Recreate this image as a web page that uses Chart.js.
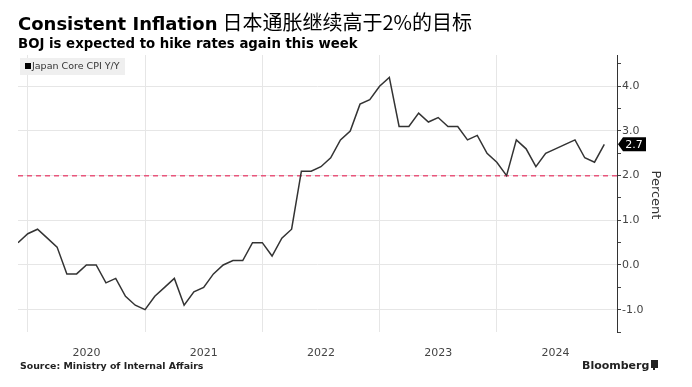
<!DOCTYPE html>
<html>
<head>
<meta charset="utf-8">
<script src="https://cdn.jsdelivr.net/npm/chart.js@4/dist/chart.umd.min.js"></script>
<style>
html, body { margin: 0; padding: 0; background: #fff; }
canvas { display: block; }
</style>
</head>
<body>
<canvas id="cpi" width="692" height="387"></canvas>
<script>
// Japan core CPI y/y, monthly, Nov 2019 .. Nov 2024
const cpiValues = [
  0.5, 0.7,                                                      // 2019 Nov-Dec
  0.8, 0.6, 0.4, -0.2, -0.2, 0.0, 0.0, -0.4, -0.3, -0.7, -0.9, -1.0, // 2020
  -0.7, -0.5, -0.3, -0.9, -0.6, -0.5, -0.2, 0.0, 0.1, 0.1, 0.5, 0.5, // 2021
  0.2, 0.6, 0.8, 2.1, 2.1, 2.2, 2.4, 2.8, 3.0, 3.6, 3.7, 4.0,        // 2022
  4.2, 3.1, 3.1, 3.4, 3.2, 3.3, 3.1, 3.1, 2.8, 2.9, 2.5, 2.3,        // 2023
  2.0, 2.8, 2.6, 2.2, 2.5, 2.6, 2.7, 2.8, 2.4, 2.3, 2.7              // 2024
];
const yearLabels = ["2020", "2021", "2022", "2023", "2024"];
const yearGridIdx = [1, 13, 25, 37, 49];   // month index of year boundaries
const yearLabelIdx = [7, 19, 31, 43, 55];  // mid-year positions for labels
const targetRate = 2.0;
const xMax = 61.3;

const cpiPoints = cpiValues.map((v, i) => ({x: i, y: v}));
const targetPoints = [{x: 0, y: targetRate}, {x: xMax, y: targetRate}];

const FONT = '"DejaVu Sans", Verdana, sans-serif';

const decorPlugin = {
  id: 'decor',
  afterDraw(chart) {
    const ctx = chart.ctx;
    const y = chart.scales.y;
    ctx.save();

    // titles
    ctx.textBaseline = 'alphabetic';
    ctx.fillStyle = '#000';
    ctx.font = 'bold 18px ' + FONT;
    ctx.fillText('Consistent Inflation', 18, 30);
    const w = ctx.measureText('Consistent Inflation').width;
    ctx.font = '20px "Noto Sans CJK SC", sans-serif';
    ctx.fillText('日本通胀继续高于2%的目标', 18 + w + 5, 30);
    ctx.font = 'bold 13.3px ' + FONT;
    ctx.fillText('BOJ is expected to hike rates again this week', 18, 48);

    // legend
    ctx.fillStyle = '#efefef';
    ctx.fillRect(20, 58, 105, 17);
    ctx.fillStyle = '#000';
    ctx.fillRect(25, 63, 6, 6);
    ctx.fillStyle = '#333';
    ctx.font = '9.5px ' + FONT;
    ctx.textBaseline = 'middle';
    ctx.fillText('Japan Core CPI Y/Y', 32, 66.5);

    // last value tag
    const last = cpiValues[cpiValues.length - 1];
    const py = y.getPixelForValue(last);
    ctx.fillStyle = '#000';
    ctx.beginPath();
    ctx.moveTo(618, py);
    ctx.lineTo(623, py - 7);
    ctx.lineTo(646, py - 7);
    ctx.lineTo(646, py + 7);
    ctx.lineTo(623, py + 7);
    ctx.closePath();
    ctx.fill();
    ctx.fillStyle = '#fff';
    ctx.font = '11px ' + FONT;
    ctx.textAlign = 'center';
    ctx.fillText(last.toFixed(1), 634, py + 0.5);

    // axis title
    ctx.save();
    ctx.translate(655, 195);
    ctx.rotate(Math.PI / 2);
    ctx.fillStyle = '#333';
    ctx.font = '13px ' + FONT;
    ctx.fillText('Percent', 0, 0);
    ctx.restore();

    // footer
    ctx.textAlign = 'left';
    ctx.fillStyle = '#222';
    ctx.font = 'bold 9.4px ' + FONT;
    ctx.fillText('Source: Ministry of Internal Affairs', 20, 367);
    ctx.font = 'bold 11px ' + FONT;
    ctx.fillText('Bloomberg', 582, 366);
    ctx.fillStyle = '#222';
    ctx.fillRect(651, 360, 7, 8);
    ctx.fillRect(653, 368, 2, 2);
    ctx.restore();
  }
};

new Chart(document.getElementById('cpi'), {
  type: 'line',
  data: {
    datasets: [
      {
        label: 'Japan Core CPI Y/Y',
        data: cpiPoints,
        borderColor: '#333',
        borderWidth: 1.5,
        pointRadius: 0,
        tension: 0
      },
      {
        label: 'Target',
        data: targetPoints,
        borderColor: '#e8567c',
        borderWidth: 1.5,
        borderDash: [5, 4],
        pointRadius: 0
      }
    ]
  },
  options: {
    responsive: false,
    animation: false,
    events: [],
    layout: {padding: {left: 18, top: 55, right: 0, bottom: 0}},
    plugins: {legend: {display: false}, tooltip: {enabled: false}},
    scales: {
      x: {
        type: 'linear',
        min: 0,
        max: xMax,
        afterBuildTicks: (scale) => {
          scale.ticks = [...yearGridIdx, ...yearLabelIdx].sort((a, b) => a - b).map(v => ({value: v}));
        },
        afterFit: (scale) => { scale.height = 55; },
        border: {display: false},
        grid: {
          drawTicks: false,
          color: (c) => (c.tick && yearGridIdx.includes(c.tick.value)) ? '#e6e6e6' : 'rgba(0,0,0,0)'
        },
        ticks: {
          autoSkip: false,
          maxRotation: 0,
          padding: 15,
          color: '#444',
          font: {family: FONT, size: 11},
          callback: (v) => {
            const k = yearLabelIdx.indexOf(v);
            return k >= 0 ? yearLabels[k] : '';
          }
        }
      },
      y: {
        type: 'linear',
        position: 'right',
        min: -1.5,
        max: 4.7,
        afterBuildTicks: (scale) => {
          const t = [];
          for (let v = -1.5; v <= 4.5; v += 0.5) t.push({value: Math.round(v * 10) / 10});
          scale.ticks = t;
        },
        afterFit: (scale) => { scale.width = 75; },
        border: {display: true, color: '#333', width: 1},
        grid: {
          tickLength: 4,
          tickColor: '#444',
          color: (c) => (c.tick && Number.isInteger(c.tick.value)) ? '#e6e6e6' : 'rgba(0,0,0,0)'
        },
        ticks: {
          padding: 1,
          color: '#444',
          font: {family: FONT, size: 11},
          callback: (v) => Number.isInteger(v) ? v.toFixed(1) : ''
        }
      }
    }
  },
  plugins: [decorPlugin]
});
</script>
</body>
</html>
